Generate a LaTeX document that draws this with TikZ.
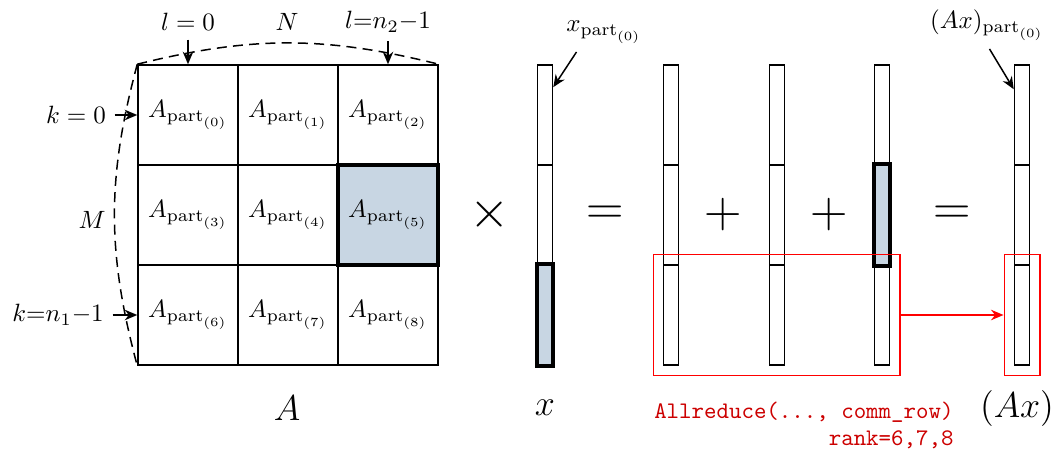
\documentclass[tikz,border=0pt]{standalone}
\usepackage{amsmath}
\usetikzlibrary{arrows.meta,positioning,fit,calc}
\definecolor{hlc}{HTML}{C8D6E3}
\definecolor{mpic}{HTML}{CC0000}
\tikzset{
  cell/.style={draw,semithick,minimum width=40pt,minimum height=40pt,inner sep=0pt},
  seg/.style={draw,semithick,minimum width=6pt,minimum height=40pt,inner sep=0pt},
  hl/.style={draw,ultra thick,fill=hlc},
  arr/.style={-{Stealth[length=5pt,width=4.2pt]},semithick,draw=#1},
  arr/.default=black,
  brace/.style={dash pattern=on 4pt off 2.5pt,semithick},
  op/.style={font=\huge},
  lab/.style={font=\Large},
  redbox/.style={draw=red,semithick,inner sep=3.8pt},
  mpitxt/.style={text=mpic,font=\fontsize{9.5}{10.8}\selectfont\ttfamily,align=right,inner sep=0pt},
}

\begin{document}
\begin{tikzpicture}[x=0.4pt,y=-0.4pt]
  \useasboundingbox (0,0) rectangle (1052,452);
  % blocks of A
  \foreach \i in {0,...,8}{
    \pgfmathtruncatemacro{\cc}{mod(\i,3)}\pgfmathtruncatemacro{\rr}{int(\i/3)}
    \ifnum\i=5 \def\fc{hlc}\def\lw{1.6pt}\else\def\fc{none}\def\lw{0.6pt}\fi
    \node[cell,fill=\fc,line width=\lw] (c\i) at ({188+100*\cc},{115+100*\rr}) {$A_{\mathrm{part}_{(\i)}}$};
  }
  \draw[brace] (c0.north west) to[bend left=14] (c2.north east);
  \draw[brace] (c0.north west) to[bend right=15] (c6.south west);
  \node (l0) at (188,22) {$l=0$};
  \node (nn) at (287,22) {$N$};
  \node (ln) at (388,22) {$l{=}n_2{-}1$};
  \draw[arr] (l0) -- (c0.north);
  \draw[arr] (ln) -- (c2.north);
  \node (k0) at (76,115) {$k=0$};
  \node (mm) at (92,220) {$M$};
  \node (kn) at (58,315) {$k{=}n_1{-}1$};
  \draw[arr] (k0) -- (c0.west);
  \draw[arr] (kn) -- (c6.west);

  % vectors
  \foreach \v/\xx in {x/545,ua/671,ub/777,uc/882,ax/1022}{
    \foreach \j in {0,1,2}{ \node[seg] (\v\j) at (\xx,{115+100*\j}) {}; }
  }
  \draw[hl] (x2.north west) rectangle (x2.south east);
  \draw[hl] (uc1.north west) rectangle (uc1.south east);
  \node (xl) at (604,32) {$x_{\mathrm{part}_{(0)}}$};
  \draw[arr] ([xshift=-11pt]xl.south) -- ($(x0.north east)+(0,23)$);
  \node (axl) at (987,25) {$(Ax)_{\mathrm{part}_{(0)}}$};
  \draw[arr] ([xshift=1pt]axl.south) -- ($(ax0.north west)+(0,25)$);

  % operators
  \node[op] (times) at (490,215) {$\times$};
  \node[op] (eq1) at (605,215) {$=$};
  \node[op] (plus1) at (723,215) {$+$};
  \node[op] (plus2) at (829,215) {$+$};
  \node[op] (eq2) at (952,215) {$=$};

  % Allreduce
  \node[redbox,fit=(ua2)(uc2)] (sum) {};
  \node[redbox,fit=(ax2)] (res) {};
  \draw[arr=red] (sum) -- (res);

  % names
  \node[lab] (na) at (287,408) {$A$};
  \node[lab] (nx) at (545,408) {$x$};
  \node[lab] (nax) at (1017,408) {$(Ax)$};
  \node[mpitxt,anchor=north east] (mpi) at (954,402) {Allreduce(..., comm\_row)\\rank=6,7,8};
\end{tikzpicture}
\end{document}
